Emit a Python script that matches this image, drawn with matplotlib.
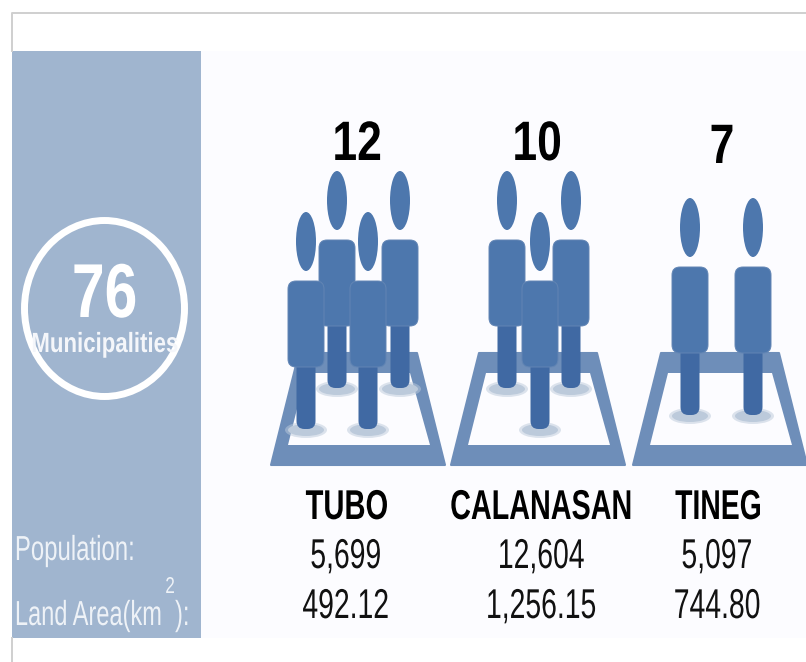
import matplotlib
matplotlib.use("Agg")
import matplotlib.pyplot as plt
from matplotlib.patches import Ellipse, FancyBboxPatch, Polygon, Rectangle
from matplotlib.patheffects import AbstractPathEffect
from matplotlib.transforms import Affine2D

plt.rcParams['font.family'] = ['Liberation Sans', 'DejaVu Sans']

# Values
municipalities = "76"
municipalities_label = "Municipalities"
row_labels = ["Population:", "Land Area(km  ):"]
counts = ["12", "10", "7"]
provinces = ["TUBO", "CALANASAN", "TINEG"]
population = ["5,699", "12,604", "5,097"]
land_area = ["492.12", "1,256.15", "744.80"]

BAND = "#a0b5cf"
PANEL = "#fcfcff"
BLUE = "#4d77ad"
BLUE_DARK = "#4069a3"
EDGE = "#6285b4"
FRAME = "#6e8eb9"
SHADOW = "#bccadb"


# the source picture is squeezed sideways, there is no narrow font installed
class Squeeze(AbstractPathEffect):
    def __init__(self, factor, ha):
        super().__init__()
        self.factor = factor
        self.ha = ha

    def draw_path(self, renderer, gc, tpath, affine, rgbFace=None):
        ext = tpath.get_extents()
        pivot = ext.x0 if self.ha == "left" else (ext.x0 + ext.x1) / 2
        squeeze = Affine2D().translate(-pivot, 0).scale(self.factor, 1).translate(pivot, 0)
        renderer.draw_path(gc, tpath, squeeze + affine, rgbFace)


fig = plt.figure(figsize=(8.06, 6.62), dpi=100)
ax = fig.add_axes([0, 0, 1, 1])
ax.set_xlim(0, 806)
ax.set_ylim(662, 0)
ax.axis("off")


def label(x, y, s, factor, size, color="#111111", weight="normal", ha="center"):
    ax.text(x, y, s, fontsize=size, color=color, fontweight=weight, ha=ha, va="baseline",
            path_effects=[Squeeze(factor, ha)])


# page border and panels
ax.plot([806, 12, 12], [13, 13, 51], color="#cfcfcf", lw=1.4)
ax.plot([12, 12], [638, 662], color="#cfcfcf", lw=1.4)
ax.add_patch(Rectangle((201, 51), 605, 587, color=PANEL, lw=0))
ax.add_patch(Rectangle((12, 51), 189, 587, color=BAND, lw=0))

# ring on the left band
ax.add_patch(Ellipse((104.5, 308.5), 160, 176, fill=False, ec="white", lw=5))
label(104.5, 317, municipalities, 0.77, 55, color="white", weight="bold")
label(104.5, 352, municipalities_label, 0.80, 20, color="#f4f6fa", weight="bold")

label(14, 560, row_labels[0], 0.69, 25, color="#eef2f7", ha="left")
label(14, 625, row_labels[1], 0.68, 25, color="#eef2f7", ha="left")
label(170, 593, "2", 0.75, 16.5, color="#eef2f7")


def frame(left):
    outer = [(left, 465), (left + 28, 353), (left + 146, 353), (left + 174, 465)]
    inner = [(left + 17, 445), (left + 35, 373), (left + 139, 373), (left + 159, 445)]
    ax.add_patch(Polygon(outer, closed=True, fc=FRAME, ec=FRAME, lw=1.5, joinstyle="round"))
    ax.add_patch(Polygon(inner, closed=True, fc=PANEL, ec="none"))


def shadow(cx, foot):
    ax.add_patch(Ellipse((cx, foot + 1), 42, 16, fc=SHADOW, ec="none", alpha=0.5))
    ax.add_patch(Ellipse((cx, foot + 1), 36, 12, fc=SHADOW, ec="none"))


def person(cx, top):
    # top is the top edge of the head, all the parts hang from it
    ax.add_patch(Ellipse((cx, top + 29.5), 20, 59, fc=BLUE, ec="none"))
    ax.add_patch(FancyBboxPatch((cx - 9.5, top + 120), 19, 97, boxstyle="round,pad=0,rounding_size=8",
                                fc=BLUE_DARK, ec="none"))
    ax.add_patch(FancyBboxPatch((cx - 18, top + 69), 36, 86, boxstyle="round,pad=0,rounding_size=8",
                                fc=BLUE, ec=EDGE, lw=0.7))


panels = [
    (271, [(337, 171), (400, 171)], [(306, 212), (368, 212)]),
    (451, [(507, 171), (571, 171)], [(540, 212)]),
    (633, [(690, 198), (753, 198)], []),
]

for left, back, front in panels:
    frame(left)
    for cx, top in back + front:
        shadow(cx, top + 217)
    for cx, top in back + front:
        person(cx, top)

# labels above and under the panels
count_x = [357, 537, 722]
count_y = [160, 160, 163]
for i in range(3):
    label(count_x[i], count_y[i], counts[i], 0.80, 40, color="black", weight="bold")

label(347, 519, provinces[0], 0.70, 30, color="black", weight="bold")
label(541, 519, provinces[1], 0.69, 30, color="black", weight="bold")
label(675, 519, provinces[2], 0.68, 30, color="black", weight="bold", ha="left")

row_x = [346, 541, 717]
for i in range(3):
    label(row_x[i], 568, population[i], 0.68, 30)
    label(row_x[i], 618, land_area[i], 0.68, 30)

fig.savefig("out.png", dpi=100)
